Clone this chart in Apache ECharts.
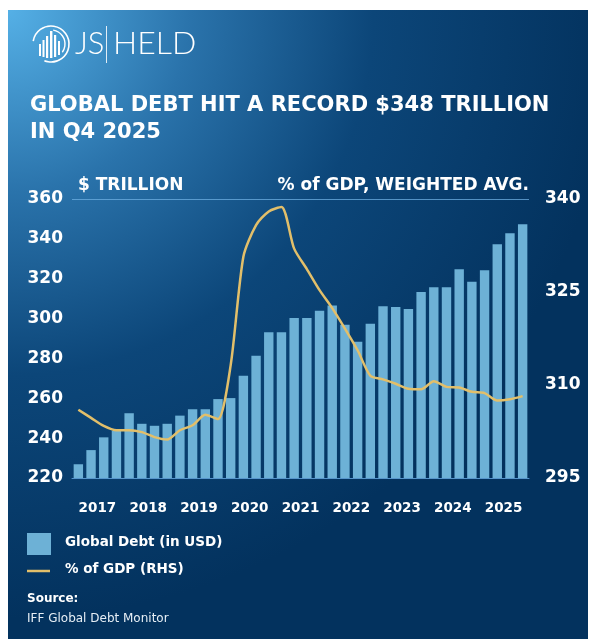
<!DOCTYPE html>
<html><head><meta charset="utf-8">
<script src="https://cdn.jsdelivr.net/npm/echarts@6/dist/echarts.min.js"></script>
<style>html,body{margin:0;padding:0;background:#fff;}#c{width:589px;height:639px;}</style>
</head><body><div id="c"></div>
<script>
// ---------- data ----------
const years = ['2017','2018','2019','2020','2021','2022','2023','2024','2025'];
const quarters = ['Q1','Q2','Q3','Q4'];
// Global debt, $ trillion (one value per quarter, Q1 2017 .. Q4 2025)
const debtTrillion = [
  226.9, 234.0, 240.4, 243.7,
  252.5, 247.2, 246.2, 247.2,
  251.3, 254.5, 254.5, 259.6,
  260.1, 271.3, 281.4, 293.1,
  293.1, 300.3, 300.3, 303.9,
  306.5, 296.9, 288.4, 297.4,
  306.2, 305.8, 304.8, 313.3,
  315.7, 315.7, 324.7, 318.5,
  324.2, 337.3, 342.8, 347.3
];
// % of GDP, weighted average (right-hand scale)
const debtPctGDP = [
  306.0, 304.7, 303.4, 302.7,
  302.7, 302.4, 301.6, 301.2,
  302.7, 303.5, 305.2, 304.5,
  313.2, 330.7, 335.8, 338.0,
  338.7, 332.0, 328.7, 325.3,
  322.4, 319.1, 315.6, 311.5,
  310.9, 310.2, 309.4, 309.3,
  310.6, 309.7, 309.6, 308.9,
  308.7, 307.5, 307.7, 308.2
];
const leftTicks = [220, 240, 260, 280, 300, 320, 340, 360];
const rightTicks = [295, 310, 325, 340];

const titleText = 'GLOBAL DEBT HIT A RECORD $348 TRILLION\nIN Q4 2025';
const leftHeader = '$ TRILLION';
const rightHeader = '% of GDP, WEIGHTED AVG.';
const legendBar = 'Global Debt (in USD)';
const legendLine = '% of GDP (RHS)';
const sourceLabel = 'Source:';
const sourceText = 'IFF Global Debt Monitor';

// ---------- build ----------
const quarterCats = [];
years.forEach(y => quarters.forEach(q => quarterCats.push(y + ' ' + q)));

const FONT = '"DejaVu Sans"';
const BAR = '#6db1d6';
const GOLD = '#e2bf6a';

const chart = echarts.init(document.getElementById('c'), null, {renderer: 'canvas'});

const splitColors = leftTicks.map((t, i) => i === leftTicks.length - 1 ? 'rgba(110,175,225,0.75)' : 'rgba(0,0,0,0)');

const option = {
  backgroundColor: '#ffffff',
  animation: false,
  graphic: [
    { type: 'rect', z: -10, shape: {x: 8, y: 10, width: 580, height: 629},
      style: { fill: new echarts.graphic.RadialGradient(0, 0, 1.05, [
        {offset: 0, color: '#55b0e6'},
        {offset: 0.3, color: '#2a73ab'},
        {offset: 0.6, color: '#0c4679'},
        {offset: 1, color: '#03325e'}
      ]) } },
    // logo mark
    { type: 'arc', shape: {cx: 51, cy: 44, r: 18, startAngle: -Math.PI*0.95, endAngle: Math.PI*0.62}, style: {stroke: '#fff', lineWidth: 1.6, fill: null} },
    { type: 'arc', shape: {cx: 51, cy: 44, r: 14, startAngle: -Math.PI*0.45, endAngle: Math.PI*0.2}, style: {stroke: '#fff', lineWidth: 1.4, fill: null} },
    { type: 'rect', shape: {x: 39, y: 44, width: 2, height: 12}, style: {fill: '#fff'} },
    { type: 'rect', shape: {x: 42.5, y: 40, width: 2, height: 17}, style: {fill: '#fff'} },
    { type: 'rect', shape: {x: 46, y: 36, width: 2.2, height: 22}, style: {fill: '#fff'} },
    { type: 'rect', shape: {x: 50, y: 31, width: 2.4, height: 27}, style: {fill: '#fff'} },
    { type: 'rect', shape: {x: 54, y: 35, width: 2.2, height: 22}, style: {fill: '#fff'} },
    { type: 'rect', shape: {x: 58, y: 41, width: 2, height: 14}, style: {fill: '#fff'} },
    // logo text
    { type: 'text', left: 75, top: 28, style: {text: 'JS', fill: '#fff', font: '300 31px Lato'} },
    { type: 'rect', shape: {x: 106, y: 26, width: 1, height: 37}, style: {fill: 'rgba(255,255,255,0.85)'} },
    { type: 'text', left: 113, top: 28, style: {text: 'HELD', fill: '#fff', font: '300 32px Lato'} },
    // axis headers
    { type: 'text', left: 78, top: 177, style: {text: leftHeader, fill: '#fff', font: 'bold 17px ' + FONT} },
    { type: 'text', right: 60, top: 177, style: {text: rightHeader, fill: '#fff', font: 'bold 17px ' + FONT, textAlign: 'right'} },
    // legend
    { type: 'rect', shape: {x: 27, y: 533, width: 24, height: 22}, style: {fill: BAR} },
    { type: 'text', left: 65, top: 535, style: {text: legendBar, fill: '#fff', font: 'bold 13.5px ' + FONT} },
    { type: 'line', shape: {x1: 27, y1: 571, x2: 50, y2: 571}, style: {stroke: GOLD, lineWidth: 2.5} },
    { type: 'text', left: 65, top: 562, style: {text: legendLine, fill: '#fff', font: 'bold 13.5px ' + FONT} },
    // source
    { type: 'text', left: 27, top: 593, style: {text: sourceLabel, fill: '#fff', font: 'bold 12px ' + FONT} },
    { type: 'text', left: 27, top: 613, style: {text: sourceText, fill: '#e6eef5', font: '12px ' + FONT} }
  ],
  title: {
    text: titleText, left: 25, top: 87,
    textStyle: {color: '#fff', fontFamily: FONT, fontWeight: 'bold', fontSize: 21, lineHeight: 27}
  },
  grid: {left: 72, right: 60, top: 199, bottom: 161, containLabel: false},
  xAxis: [
    { type: 'category', data: quarterCats, position: 'bottom',
      axisLine: {lineStyle: {color: 'rgba(95,160,215,0.9)', width: 1}},
      axisTick: {show: false}, axisLabel: {show: false} },
    { type: 'category', data: years, position: 'bottom', offset: 0,
      axisLine: {show: false}, axisTick: {show: false},
      axisLabel: {interval: 0, color: '#fff', fontFamily: FONT, fontWeight: 'bold', fontSize: 13.5, margin: 23} }
  ],
  yAxis: [
    { type: 'value', min: leftTicks[0], max: leftTicks[leftTicks.length-1], interval: leftTicks[1]-leftTicks[0],
      axisLine: {show: false}, axisTick: {show: false},
      splitLine: {show: true, lineStyle: {color: splitColors, width: 1}},
      axisLabel: {color: '#fff', fontFamily: FONT, fontWeight: 'bold', fontSize: 17, margin: 9} },
    { type: 'value', min: rightTicks[0], max: rightTicks[rightTicks.length-1], interval: rightTicks[1]-rightTicks[0],
      position: 'right', axisLine: {show: false}, axisTick: {show: false}, splitLine: {show: false},
      axisLabel: {color: '#fff', fontFamily: FONT, fontWeight: 'bold', fontSize: 17, margin: 16, align: 'left'} }
  ],
  series: [
    { name: legendBar, type: 'bar', xAxisIndex: 0, yAxisIndex: 0, data: debtTrillion,
      barWidth: 9.4, itemStyle: {color: BAR}, z: 2 },
    { name: legendLine, type: 'line', xAxisIndex: 0, yAxisIndex: 1, data: debtPctGDP,
      smooth: 0.25, showSymbol: false, symbol: 'none', lineStyle: {color: GOLD, width: 2.5}, z: 3 }
  ]
};
chart.setOption(option);
</script></body></html>
